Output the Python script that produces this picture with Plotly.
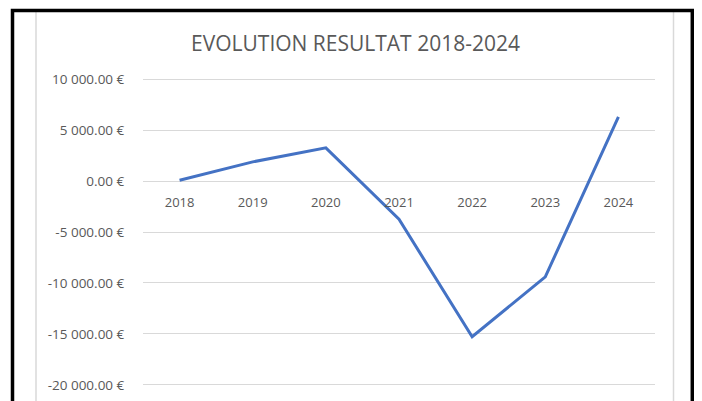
import plotly.graph_objects as go

# ---- data ----
years = ["2018", "2019", "2020", "2021", "2022", "2023", "2024"]
resultat = [80, 1880, 3250, -3750, -15270, -9400, 6300]
y_tick_values = [10000, 5000, 0, -5000, -10000, -15000, -20000]
y_tick_labels = ["10 000.00 €", "5 000.00 €", "0.00 €", "-5 000.00 €",
                 "-10 000.00 €", "-15 000.00 €", "-20 000.00 €"]
title_text = "EVOLUTION RESULTAT 2018-2024"

# ---- layout geometry (screen pixels; the page body has an 8px margin) ----
OFF = 8
FIG_W, FIG_H = 702, 401
PLOT_L, PLOT_R, PLOT_T, PLOT_B = 143, 655, 74, 390   # screen px
ML = PLOT_L - OFF
MR = FIG_W - (PLOT_R - OFF)
MT = PLOT_T - OFF
MB = FIG_H - (PLOT_B - OFF)
PW = PLOT_R - PLOT_L
PH = PLOT_B - PLOT_T
Y_MIN, Y_MAX = -20500, 10500


def xf(px):
    return (px - PLOT_L) / PW


def yf(py):
    return (PLOT_B - py) / PH


fig = go.Figure()
fig.add_trace(go.Scatter(
    x=years, y=resultat, mode="lines",
    line=dict(color="#4472C4", width=3),
    hoverinfo="x+y", showlegend=False,
))

zero_pos = (0 - Y_MIN) / (Y_MAX - Y_MIN)

fig.update_layout(
    width=FIG_W, height=FIG_H,
    margin=dict(l=ML, r=MR, t=MT, b=MB, pad=0),
    paper_bgcolor="white", plot_bgcolor="white",
    font=dict(family="Open Sans, Liberation Sans, Arial", color="#595959"),
    title=dict(text=title_text, x=xf(355.5), xref="paper", xanchor="center",
               y=1 - (44 - OFF) / FIG_H, yref="container", yanchor="middle",
               font=dict(size=21, color="#595959")),
    xaxis=dict(
        type="category", range=[-0.5, 6.5],
        anchor="free", position=zero_pos,
        showgrid=False, showline=False, zeroline=False,
        ticks="outside", ticklen=9, tickcolor="rgba(0,0,0,0)",
        tickfont=dict(size=13, color="#595959"),
    ),
    yaxis=dict(
        range=[Y_MIN, Y_MAX],
        tickvals=y_tick_values, ticktext=y_tick_labels,
        showgrid=True, gridcolor="#d9d9d9", gridwidth=1,
        zeroline=True, zerolinecolor="#d9d9d9", zerolinewidth=1,
        showline=False, ticklabeloverflow="allow",
        ticks="outside", ticklen=15, tickcolor="rgba(0,0,0,0)",
        tickfont=dict(size=13.5, color="#595959"),
    ),
    shapes=[
        # inner light grey chart frame
        dict(type="rect", xref="paper", yref="paper",
             x0=xf(36), x1=xf(673.5), y0=yf(460), y1=yf(11),
             line=dict(color="#d9d9d9", width=1.5), layer="below"),
        # outer black frame
        dict(type="rect", xref="paper", yref="paper",
             x0=xf(12.5), x1=xf(692.3), y0=yf(460), y1=yf(10.5),
             line=dict(color="black", width=3.5), layer="above"),
    ],
)

fig.write_html("out.html")
